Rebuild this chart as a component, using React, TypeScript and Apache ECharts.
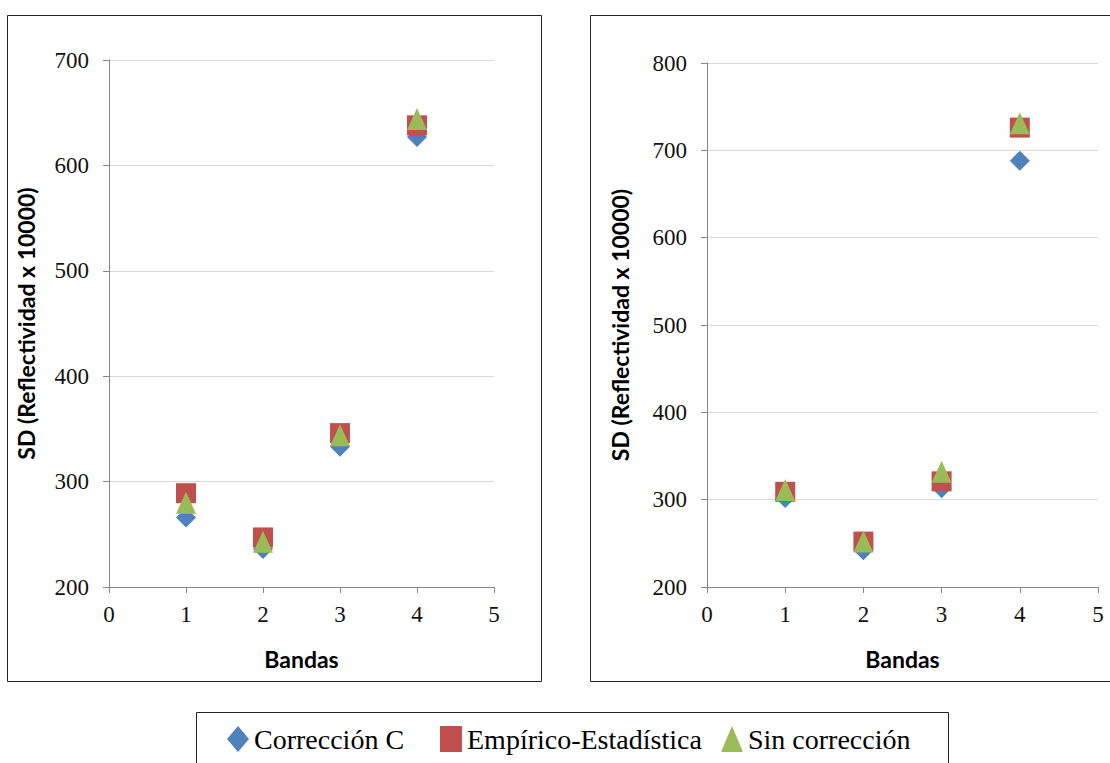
import React, { useEffect, useRef } from "react";
import * as echarts from "echarts";

const bands = [1, 2, 3, 4];
const seriesNames = ["Corrección C", "Empírico-Estadística", "Sin corrección"];

// Left chart
const leftCorreccionC = [266, 236, 333, 627];
const leftEmpirico = [289, 247, 346, 638];
const leftSinCorreccion = [280, 243, 344, 644];

// Right chart
const rightCorreccionC = [302, 242, 313, 688];
const rightEmpirico = [309, 252, 321, 726];
const rightSinCorreccion = [311, 252, 332, 731];

const colors = ["#4F81BD", "#C0504D", "#9BBB59"];
const symbols = ["diamond", "rect", "triangle"];
const legendLefts = [222, 435, 716];

const serif = "Liberation Serif";
const sans = "Lato";

export default function App() {
  const ref = useRef<HTMLDivElement>(null);
  useEffect(() => {
    if (!ref.current) return;
    const chart = echarts.init(ref.current, undefined, { renderer: "svg" });
    const axisLine = { show: true, lineStyle: { color: "#868686", width: 1 } };
    const xAxisBase = (gridIndex: number) => ({
      type: "value" as const,
      gridIndex,
      min: 0,
      max: 5,
      interval: 1,
      axisLine,
      axisTick: { show: true, length: 6, lineStyle: { color: "#868686" } },
      splitLine: { show: false },
      axisLabel: { fontFamily: serif, fontSize: 23, color: "#111", margin: 16 },
      name: "Bandas",
      nameLocation: "middle" as const,
      nameGap: 60,
      nameTextStyle: { fontFamily: sans, fontWeight: "bold" as const, fontSize: 23, color: "#000" },
    });
    const yAxisBase = (gridIndex: number, min: number, max: number, gap: number) => ({
      type: "value" as const,
      gridIndex,
      min,
      max,
      interval: 100,
      axisLine,
      axisTick: { show: true, length: 6, lineStyle: { color: "#868686" } },
      splitLine: { show: true, lineStyle: { color: "#D9D9D9", width: 1 } },
      axisLabel: { fontFamily: serif, fontSize: 23, color: "#111", margin: 20 },
      name: "SD (Reflectividad x 10000)",
      nameLocation: "middle" as const,
      nameGap: gap,
      nameRotate: 90,
      nameTextStyle: { fontFamily: sans, fontWeight: "bold" as const, fontSize: 23, color: "#000" },
    });
    const mk = (name: string, i: number, data: number[], axisIdx: number) => ({
      name,
      type: "scatter" as const,
      xAxisIndex: axisIdx,
      yAxisIndex: axisIdx,
      symbol: symbols[i],
      symbolSize: i === 1 ? 20 : i === 0 ? [20, 20] : [20, 22],
      itemStyle: { color: colors[i], opacity: 1 },
      data: data.map((v, k) => [bands[k], v]),
      z: 2 + i,
    });
    chart.setOption({
      animation: false,
      xAxis: [xAxisBase(0), xAxisBase(1)],
      yAxis: [yAxisBase(0, 200, 700, 72), yAxisBase(1, 200, 800, 76)],
      grid: [
        { left: 109, top: 60, width: 385, height: 527 },
        { left: 707, top: 63, width: 391, height: 524 },
      ],
      legend: seriesNames.map((n, i) => ({
        data: [{ name: n, icon: symbols[i] }],
        left: legendLefts[i],
        top: 720,
        itemWidth: 22,
        itemHeight: 26,
        textStyle: { fontFamily: serif, fontSize: 28, color: "#000" },
      })),
      graphic: [
        { type: "rect", shape: { x: 7.5, y: 15.5, width: 534, height: 666 }, style: { fill: "none", stroke: "#222", lineWidth: 1 }, silent: true },
        { type: "rect", shape: { x: 590.5, y: 15.5, width: 540, height: 666 }, style: { fill: "none", stroke: "#222", lineWidth: 1 }, silent: true },
        { type: "rect", shape: { x: 196.5, y: 712.5, width: 752, height: 60 }, style: { fill: "none", stroke: "#222", lineWidth: 1 }, silent: true },
      ],
      series: [
        mk(seriesNames[0], 0, leftCorreccionC, 0),
        mk(seriesNames[1], 1, leftEmpirico, 0),
        mk(seriesNames[2], 2, leftSinCorreccion, 0),
        mk(seriesNames[0], 0, rightCorreccionC, 1),
        mk(seriesNames[1], 1, rightEmpirico, 1),
        mk(seriesNames[2], 2, rightSinCorreccion, 1),
      ],
    });
    return () => chart.dispose();
  }, []);
  return (
    <div
      ref={ref}
      style={{ position: "absolute", left: 0, top: 0, width: 1110, height: 763, background: "#fff" }}
    />
  );
}
